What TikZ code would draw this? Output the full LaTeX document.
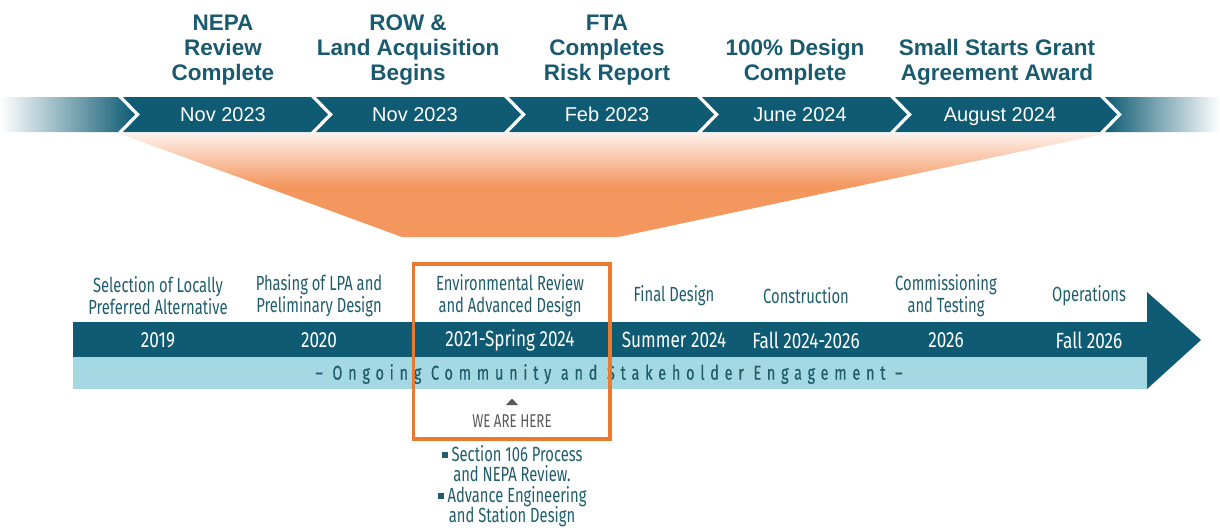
\documentclass[tikz,border=0pt]{standalone}
\usepackage{fontspec}
\setmainfont{Liberation Sans}
\newfontfamily\condfont[FakeStretch=0.72]{Fira Sans}
\newfontfamily\yearfont[FakeStretch=0.78]{Fira Sans}
\newfontfamily\trackfont[FakeStretch=0.72,FakeBold=0.6,LetterSpace=29]{Fira Sans}
\usetikzlibrary{positioning,calc}
\definecolor{bandnavy}{HTML}{0E5B73}
\definecolor{headteal}{HTML}{195A6E}
\definecolor{phaseteal}{HTML}{1F5D6D}
\definecolor{skyband}{HTML}{A4D9E4}
\definecolor{funnelorange}{HTML}{F4975F}
\definecolor{funnelpale}{HTML}{FDF1EA}
\definecolor{boxorange}{HTML}{EA7A2F}
\definecolor{notegray}{HTML}{595959}

\begin{document}
\begin{tikzpicture}[x=1pt,y=-1pt,node distance=17pt,
  milestone/.style={font=\fontsize{22.5}{25}\selectfont\bfseries,text=headteal,align=center,inner sep=1pt},
  datelbl/.style={font=\fontsize{20}{22}\selectfont,text=white,text height=14pt,text depth=4pt},
  phase/.style={font=\condfont\fontsize{20.5}{22}\selectfont,text=phaseteal,align=center},
  yearlbl/.style={font=\yearfont\fontsize{22}{24}\selectfont,text=white}]
\useasboundingbox (0,0) rectangle (1220,531);

% orange funnel between the two timelines
\begin{scope}
\clip (118,133) -- (1108,133) -- (618,237) -- (402,237) -- cycle;
\fill[funnelorange] (0,185) rectangle (1220,240);
\shade[top color=funnelpale,bottom color=funnelorange] (0,133) rectangle (1220,186);
\end{scope}

% milestone chevrons
\shade[left color=white,right color=bandnavy] (0,97) -- (118,97) -- (135,114.5) -- (118,132) -- (0,132) -- cycle;
\shade[left color=bandnavy,right color=white] (1105,97) -- (1220,97) -- (1220,132) -- (1105,132) -- (1122,114.5) -- cycle;
\foreach \a/\b/\c/\dt/\nm in {123/311/223/Nov 2023/nepa,316/504/415/Nov 2023/row,509/697/607/Feb 2023/fta,702/890/800/June 2024/design,895/1100/1000/August 2024/grant}{
  \fill[bandnavy] (\a,97) -- (\b,97) -- (\b+17,114.5) -- (\b,132) -- (\a,132) -- (\a+17,114.5) -- cycle;
  \node[datelbl] (d\nm) at (\c,116) {\dt};
}
\node[milestone,above=of dnepa] (mnepa) {NEPA\\Review\\Complete};
\node[milestone,above=of drow,xshift=-7pt] (mrow) {ROW \&\\Land Acquisition\\Begins};
\node[milestone,above=of dfta] (mfta) {FTA\\Completes\\Risk Report};
\node[milestone,above=of ddesign,xshift=-5pt] (mdesign) {100\% Design\\Complete};
\node[milestone,above=of dgrant,xshift=-3pt] (mgrant) {Small Starts Grant\\Agreement Award};

% project timeline arrow
\fill[bandnavy] (73,322) rectangle (1148,357);
\fill[skyband] (73,357) rectangle (1148,389);
\fill[bandnavy] (1147,292) -- (1201,340) -- (1147,389) -- cycle;
\foreach \x/\ph/\yr/\nm in {158/{Selection of Locally\\Preferred Alternative}/2019/lpa,
  319/{Phasing of LPA and\\Preliminary Design}/2020/phasing,
  510/{Environmental Review\\and Advanced Design}/2021-Spring 2024/env,
  674/{Final Design}/Summer 2024/final,
  806/{Construction}/Fall 2024-2026/build,
  946/{Commissioning\\and Testing}/2026/testing,
  1089/{Operations}/Fall 2026/ops}{
  \node[phase] (p\nm) at (\x,296) {\ph};
  \node[yearlbl] (y\nm) at (\x,340) {\yr};
}
\node[font=\trackfont\fontsize{20}{22}\selectfont,text=phaseteal] (engage) at (609,374) {– Ongoing Community and Stakeholder Engagement –};

% current phase marker
\draw[boxorange,line width=3.5] (413.5,264) rectangle (610,439);
\fill[notegray] (506,405) -- (518,405) -- (512,398.5) -- cycle;
\node[font=\condfont\fontsize{18.5}{20}\selectfont,text=notegray] (here) at (512,421) {WE ARE HERE};
\node[font=\condfont\fontsize{20.5}{20.5}\selectfont,text=phaseteal,align=center,below=11pt of here] (tasks)
  {\rule[0.3ex]{0.3em}{0.3em}\ Section 106 Process\\and NEPA Review.\\\rule[0.3ex]{0.3em}{0.3em}\ Advance Engineering\\and Station Design};
\end{tikzpicture}
\end{document}
